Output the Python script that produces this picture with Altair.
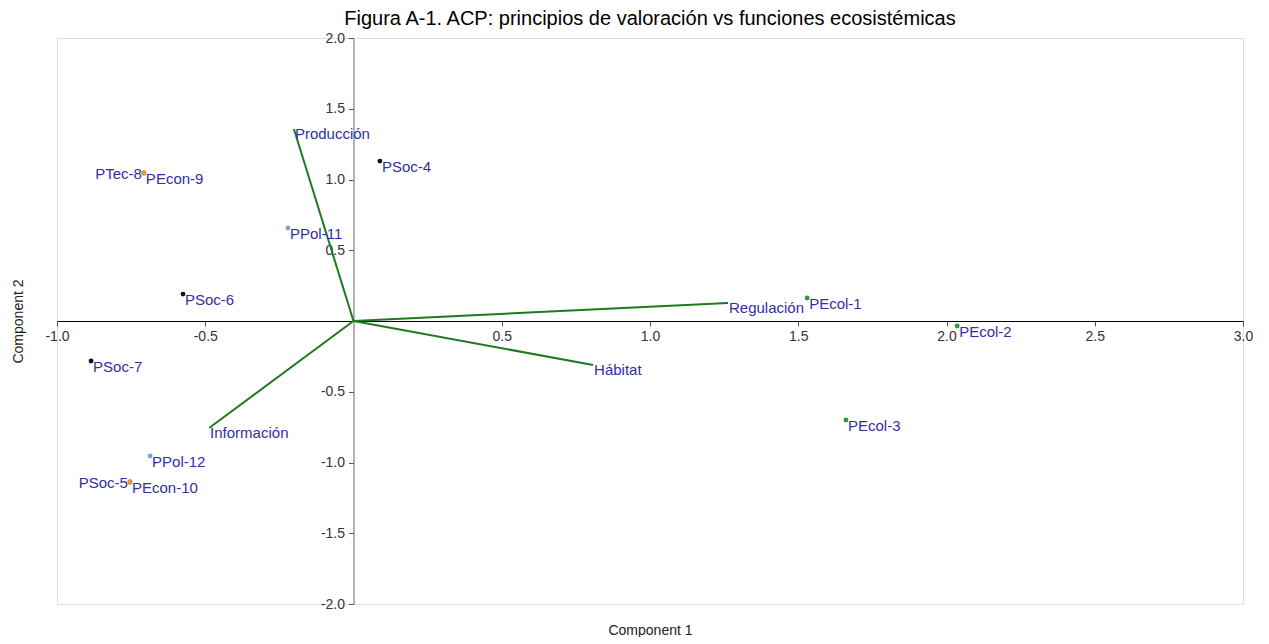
import altair as alt
import pandas as pd

# Observations (scores)
obs_labels = ["PSoc-4", "PTec-8", "PEcon-9", "PPol-11", "PSoc-6", "PSoc-7",
              "PPol-12", "PSoc-5", "PEcon-10", "PEcol-1", "PEcol-2", "PEcol-3"]
obs_x = [0.089, -0.707, -0.707, -0.221, -0.575, -0.885, -0.686, -0.754, -0.754, 1.530, 2.036, 1.661]
obs_y = [1.13, 1.046, 1.046, 0.657, 0.19, -0.283, -0.954, -1.138, -1.138, 0.163, -0.035, -0.70]
obs_group = ["Soc", "Tec", "Econ", "Pol", "Soc", "Soc", "Pol", "Soc", "Econ", "Ecol", "Ecol", "Ecol"]
obs_align = ["left", "right", "left", "left", "left", "left", "left", "right", "left", "left", "left", "left"]

# Loadings (vectors)
vec_labels = ["Producción", "Regulación", "Hábitat", "Información"]
vec_x = [-0.201, 1.263, 0.808, -0.487]
vec_y = [1.357, 0.127, -0.311, -0.756]

x_ticks = [-1.0, -0.5, 0.5, 1.0, 1.5, 2.0, 2.5, 3.0]
y_ticks = [-2.0, -1.5, -1.0, -0.5, 0.5, 1.0, 1.5, 2.0]

groups = ["Soc", "Tec", "Econ", "Pol", "Ecol"]
group_colors = ["#111111", "#111111", "#f0942c", "#7ba2e6", "#2c9a3c"]

obs = pd.DataFrame({"label": obs_labels, "x": obs_x, "y": obs_y,
                    "group": obs_group, "align": obs_align})
vec = pd.DataFrame({"label": vec_labels, "x": vec_x, "y": vec_y,
                    "x0": [0.0] * len(vec_x), "y0": [0.0] * len(vec_y)})

W, H = 1186, 566
xs = alt.Scale(domain=[-1.0, 3.0], nice=False, zero=False)
ys = alt.Scale(domain=[-2.0, 2.0], nice=False, zero=False)

FONT = "Liberation Sans"
TXT = "#3030a4"
MINUS_FIX = "replace(datum.label, '\u2212', '-')"

x_axis = alt.Axis(orient="bottom", values=x_ticks, format=".1f", title=None, grid=False,
                  offset=-(H / 2), domainColor="#000000", domainWidth=1.2,
                  tickColor="#555555", tickSize=5, labelFont=FONT, labelFontSize=14,
                  labelColor="#333333", labelPadding=3, labelFlush=False, labelOverlap=False,
                  labelExpr=MINUS_FIX)
y_axis = alt.Axis(orient="left", values=y_ticks, format=".1f", title=None, grid=False,
                  offset=-(W / 4), domainColor="#808080", domainWidth=1.2,
                  tickColor="#555555", tickSize=5, labelFont=FONT, labelFontSize=14,
                  labelColor="#333333", labelPadding=4, labelFlush=False, labelOverlap=False,
                  labelExpr=MINUS_FIX)

x_title_axis = alt.Axis(orient="bottom", title="Component 1", labels=False, ticks=False,
                        domain=False, grid=False, titleFont=FONT, titleFontSize=14,
                        titleFontWeight="normal", titleColor="#222222", titlePadding=19)
y_title_axis = alt.Axis(orient="left", title="Component 2", labels=False, ticks=False,
                        domain=False, grid=False, titleFont=FONT, titleFontSize=14,
                        titleFontWeight="normal", titleColor="#222222", titlePadding=32)

title_axes = alt.Chart(obs).mark_point(opacity=0).encode(
    x=alt.X("x:Q", scale=xs, axis=x_title_axis),
    y=alt.Y("y:Q", scale=ys, axis=y_title_axis),
)
base_axes = alt.Chart(obs).mark_point(opacity=0).encode(
    x=alt.X("x:Q", scale=xs, axis=x_axis),
    y=alt.Y("y:Q", scale=ys, axis=y_axis),
)

lines = alt.Chart(vec).mark_rule(color="#1f7a1f", strokeWidth=2).encode(
    x=alt.X("x0:Q", scale=xs, axis=None), y=alt.Y("y0:Q", scale=ys, axis=None),
    x2="x:Q", y2="y:Q",
)
vec_text = alt.Chart(vec).mark_text(align="left", baseline="middle", dx=1, dy=5,
                                    font=FONT, fontSize=15, color=TXT).encode(
    x=alt.X("x:Q", scale=xs, axis=None), y=alt.Y("y:Q", scale=ys, axis=None),
    text="label:N",
)

# rows are drawn in order, so the PEcon points lie on top of the PTec/PSoc points they share
points = alt.Chart(obs).mark_circle(size=24, opacity=1).encode(
    x=alt.X("x:Q", scale=xs, axis=None), y=alt.Y("y:Q", scale=ys, axis=None),
    color=alt.Color("group:N", scale=alt.Scale(domain=groups, range=group_colors), legend=None),
)

txt_left = alt.Chart(obs).transform_filter(alt.datum.align == "left").mark_text(
    align="left", baseline="middle", dx=2, dy=6, font=FONT, fontSize=15, color=TXT).encode(
    x=alt.X("x:Q", scale=xs, axis=None), y=alt.Y("y:Q", scale=ys, axis=None),
    text="label:N",
)
txt_right = alt.Chart(obs).transform_filter(alt.datum.align == "right").mark_text(
    align="right", baseline="middle", dx=-2, dy=1, font=FONT, fontSize=15, color=TXT).encode(
    x=alt.X("x:Q", scale=xs, axis=None), y=alt.Y("y:Q", scale=ys, axis=None),
    text="label:N",
)

chart = alt.layer(
    title_axes, base_axes, lines, vec_text, points, txt_left, txt_right
).resolve_axis(x="independent", y="independent").properties(
    width=W, height=H,
    title=alt.TitleParams("Figura A-1. ACP: principios de valoración vs funciones ecosistémicas",
                          font=FONT, fontSize=20, fontWeight="normal", color="#000000",
                          anchor="middle", offset=2),
    padding={"left": 3, "top": 1, "right": 5, "bottom": 0},
).configure_view(stroke="#808080", strokeWidth=1.5).configure(background="white")

chart.save("out.html", embed_options={"renderer": "svg", "actions": False})
